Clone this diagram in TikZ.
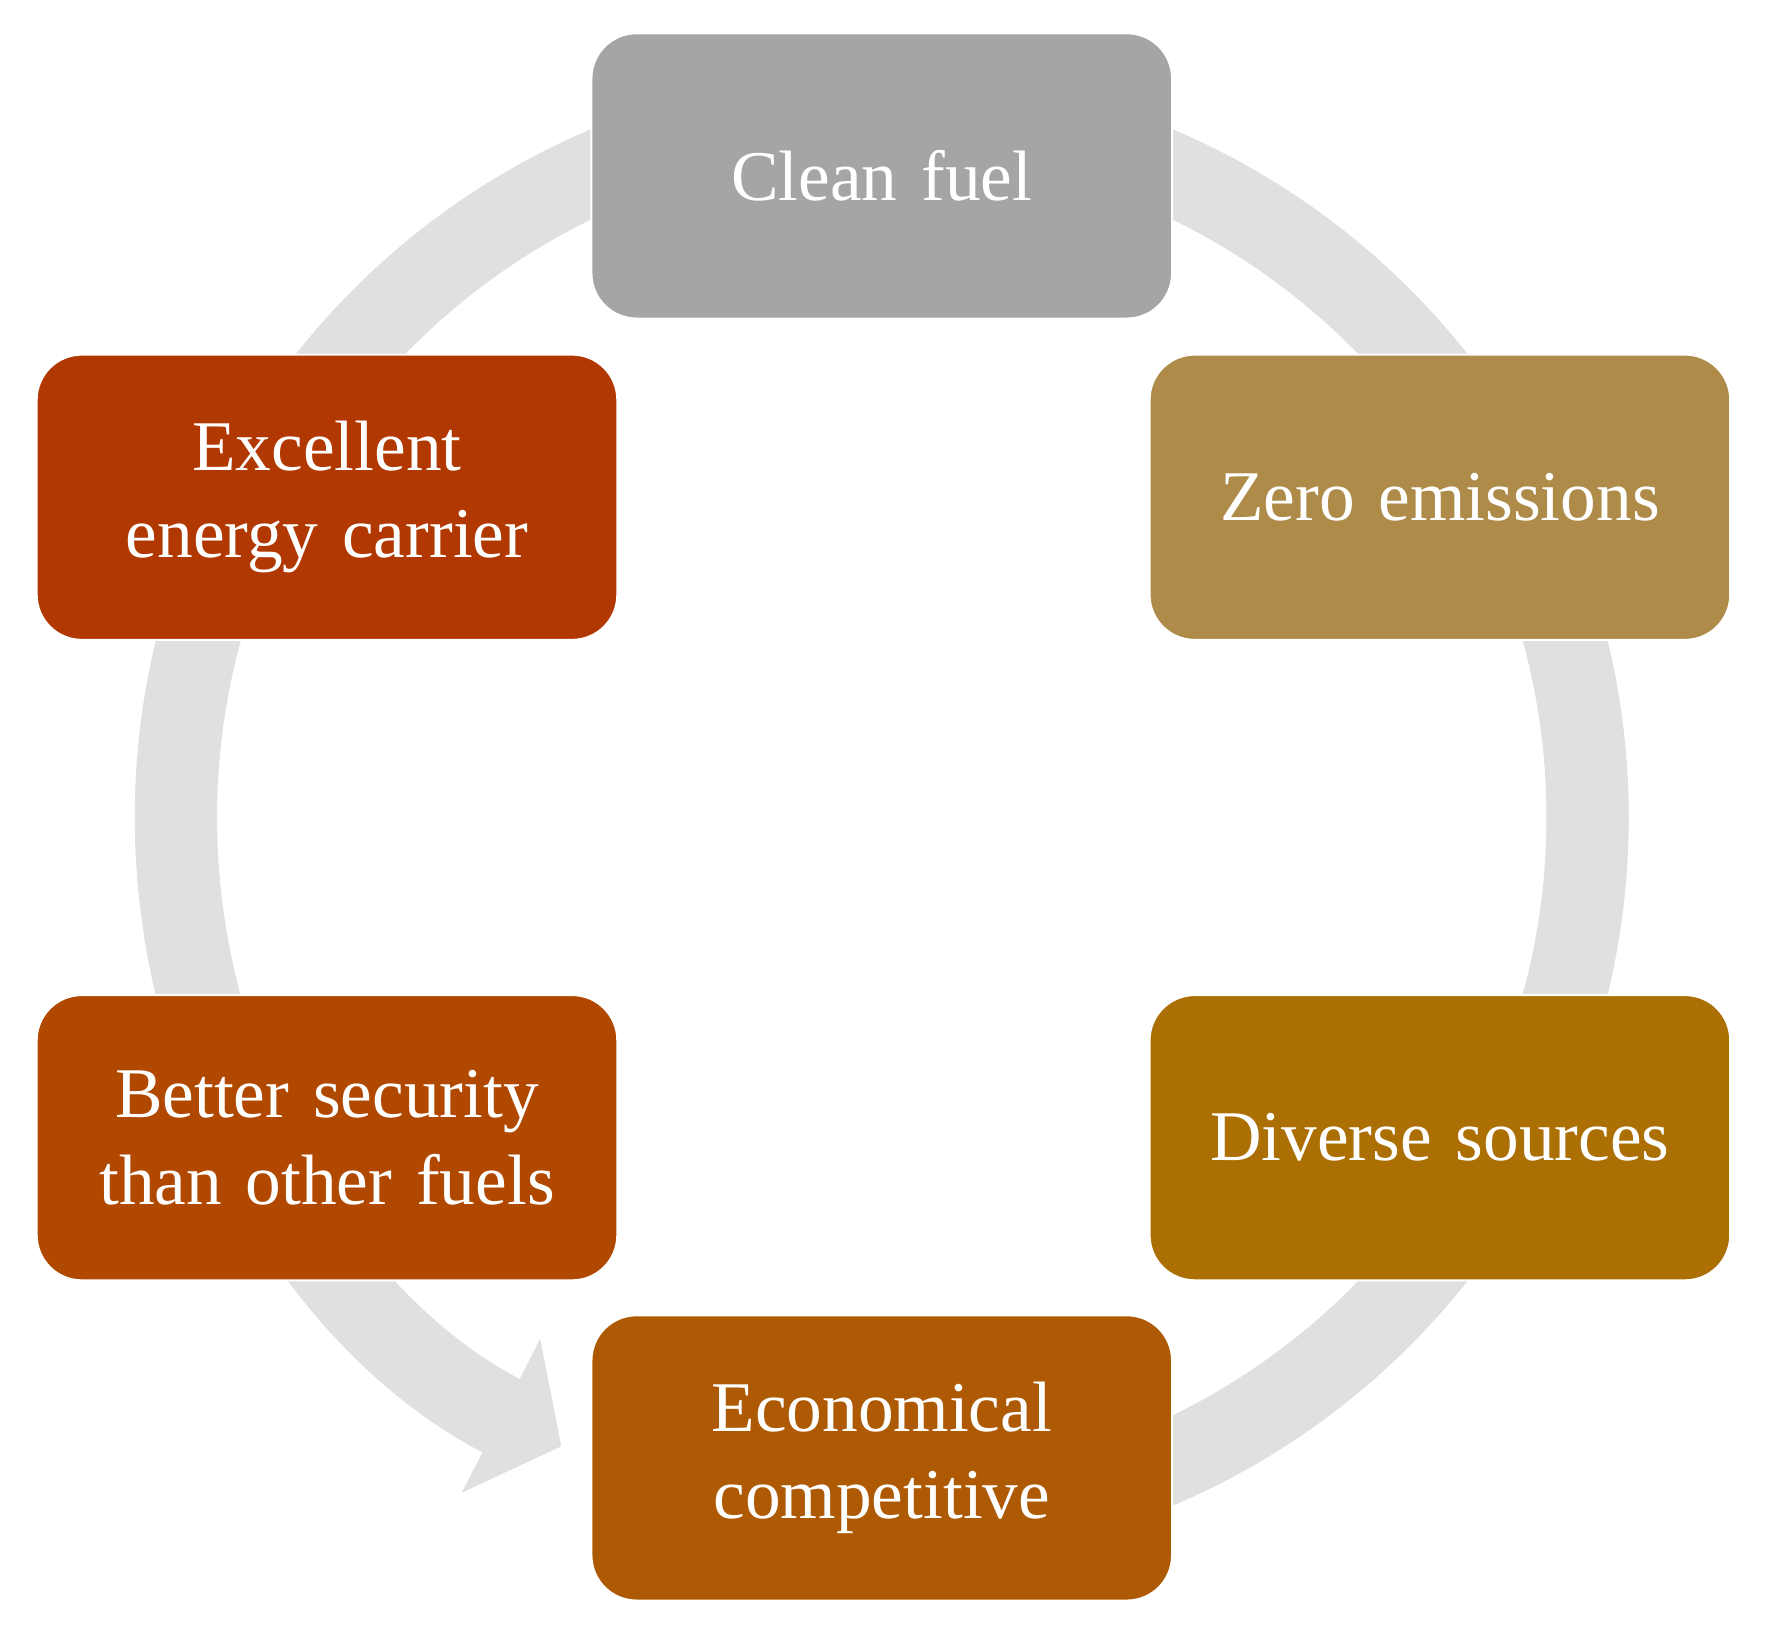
\documentclass[tikz,border=0pt]{standalone}
\usepackage{fontspec}
\setmainfont{Liberation Serif}
\usetikzlibrary{arrows.meta}
\definecolor{ringgray}{HTML}{E0E0E0}
\definecolor{cleanc}{HTML}{A5A5A5}
\definecolor{zeroc}{HTML}{AE8B48}
\definecolor{diversec}{HTML}{AB6F04}
\definecolor{econc}{HTML}{AE5A04}
\definecolor{securc}{HTML}{B04800}
\definecolor{excelc}{HTML}{B13800}
\tikzset{
  box/.style={draw=white, line width=1pt, rounded corners=0.8cm, minimum width=10.3cm,
    minimum height=5.06cm, text width=9.6cm, align=center, text=white,
    font=\fontsize{36}{44}\selectfont},
}
\begin{document}
\begin{tikzpicture}[x=0.02cm,y=-0.02cm]
            \useasboundingbox (0,0) rectangle (1568,1452);
            \coordinate (C) at (782,725);
            % ring with head
            \draw [ringgray, line width=1.46cm, -{Triangle[length=1.2cm,width=3cm]}]
                ([shift={(90:626)}]C) arc [start angle=90, end angle=-243, radius=626];
            \node [box, fill=cleanc]   (clean)  at (782,156)  {Clean fuel};
            \node [box, fill=zeroc]    (zero)   at (1277,441) {Zero emissions};
            \node [box, fill=diversec] (divers) at (1277,1009) {Diverse sources};
            \node [box, fill=econc]    (econ)   at (782,1293) {Economical\\competitive};
            \node [box, fill=securc]   (secur)  at (290,1009) {Better security\\than other fuels};
            \node [box, fill=excelc]   (excel)  at (290,441)  {Excellent\\energy carrier};
\end{tikzpicture}
\end{document}
